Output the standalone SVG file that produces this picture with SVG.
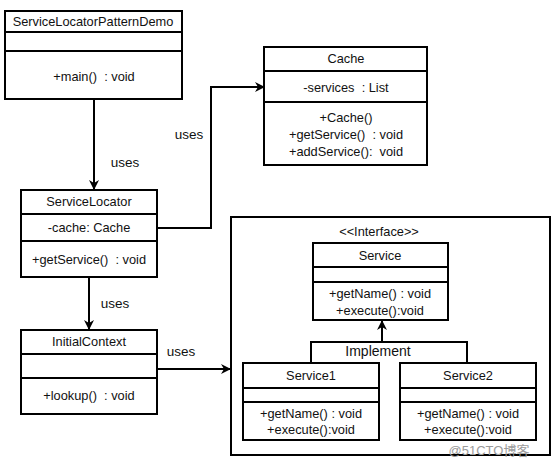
<svg xmlns="http://www.w3.org/2000/svg" width="553" height="467" viewBox="0 0 553 467">
<defs>
<style>
.box{fill:#fff;stroke:#000;stroke-width:2}
.ln{stroke:#000;stroke-width:2;fill:none}
.t{font-family:"Liberation Sans",Arial,sans-serif;font-size:12.8px;fill:#111;text-anchor:middle;white-space:pre}
.lbl{font-family:"Liberation Sans",Arial,sans-serif;font-size:13.5px;fill:#111;text-anchor:middle}
</style>
<marker id="arr" viewBox="0 0 10 10" refX="9" refY="5" markerWidth="10" markerHeight="10" markerUnits="userSpaceOnUse" orient="auto">
<path d="M0,0 L10,5 L0,10 L3,5 z" fill="#000"/>
</marker>
</defs>
<rect width="553" height="467" fill="#fff"/>

<g id="interface-group">
<rect class="box" x="231" y="217" width="319" height="238"/>
<text class="t" x="379" y="236">&lt;&lt;Interface&gt;&gt;</text>
</g>

<g id="connectors">
<line class="ln" x1="94" y1="99" x2="94" y2="189" marker-end="url(#arr)"/>
<text class="lbl" x="125" y="167">uses</text>
<polyline class="ln" points="157,228 211,228 211,87 264,87" marker-end="url(#arr)"/>
<text class="lbl" x="189" y="139">uses</text>
<line class="ln" x1="89" y1="277" x2="89" y2="329" marker-end="url(#arr)"/>
<text class="lbl" x="115" y="308">uses</text>
<line class="ln" x1="157" y1="369" x2="230" y2="369" marker-end="url(#arr)"/>
<text class="lbl" x="181" y="356">uses</text>
<line class="ln" x1="382" y1="342" x2="382" y2="321" marker-end="url(#arr)"/>
<polyline class="ln" points="311,363 311,342 467,342 467,363"/>
<text class="lbl" x="378" y="356" style="font-size:14px">Implement</text>
</g>

<g id="ServiceLocatorPatternDemo">
<rect class="box" x="5" y="11" width="177" height="88"/>
<line class="ln" x1="5" y1="32" x2="182" y2="32"/>
<line class="ln" x1="5" y1="51" x2="182" y2="51"/>
<text class="t" x="93" y="26">ServiceLocatorPatternDemo</text>
<text class="t" x="94" y="81">+main()  : void</text>
</g>

<g id="Cache">
<rect class="box" x="264" y="47" width="163" height="118"/>
<line class="ln" x1="264" y1="71" x2="427" y2="71"/>
<line class="ln" x1="264" y1="102" x2="427" y2="102"/>
<text class="t" x="346" y="63">Cache</text>
<text class="t" x="346" y="92">-services  : List</text>
<text class="t" x="346" y="122">+Cache()</text>
<text class="t" x="346" y="139">+getService()  : void</text>
<text class="t" x="346" y="156">+addService():  void</text>
</g>

<g id="ServiceLocator">
<rect class="box" x="21" y="190" width="136" height="87"/>
<line class="ln" x1="21" y1="214" x2="157" y2="214"/>
<line class="ln" x1="21" y1="241" x2="157" y2="241"/>
<text class="t" x="89" y="206">ServiceLocator</text>
<text class="t" x="89" y="232">-cache: Cache</text>
<text class="t" x="89" y="264">+getService()  : void</text>
</g>

<g id="InitialContext">
<rect class="box" x="21" y="330" width="136" height="84"/>
<line class="ln" x1="21" y1="354" x2="157" y2="354"/>
<line class="ln" x1="21" y1="378" x2="157" y2="378"/>
<text class="t" x="89" y="346">InitialContext</text>
<text class="t" x="89" y="400">+lookup()  : void</text>
</g>

<g id="Service">
<rect class="box" x="313" y="243" width="135" height="77"/>
<line class="ln" x1="313" y1="267" x2="448" y2="267"/>
<line class="ln" x1="313" y1="282" x2="448" y2="282"/>
<text class="t" x="380" y="260">Service</text>
<text class="t" x="380" y="298">+getName() : void</text>
<text class="t" x="380" y="315">+execute():void</text>
</g>

<g id="Service1">
<rect class="box" x="243" y="363" width="136" height="77"/>
<line class="ln" x1="243" y1="388" x2="379" y2="388"/>
<line class="ln" x1="243" y1="402" x2="379" y2="402"/>
<text class="t" x="311" y="380">Service1</text>
<text class="t" x="311" y="418">+getName() : void</text>
<text class="t" x="311" y="434">+execute():void</text>
</g>

<g id="Service2">
<rect class="box" x="400" y="363" width="136" height="77"/>
<line class="ln" x1="400" y1="388" x2="536" y2="388"/>
<line class="ln" x1="400" y1="402" x2="536" y2="402"/>
<text class="t" x="468" y="380">Service2</text>
<text class="t" x="468" y="418">+getName() : void</text>
<text class="t" x="468" y="434">+execute():void</text>
</g>

<text x="489" y="455" style="font-family:'Liberation Sans','Noto Sans CJK SC',sans-serif;font-size:13px;fill:#9a9a9a;text-anchor:middle">@51CTO博客</text>
</svg>
